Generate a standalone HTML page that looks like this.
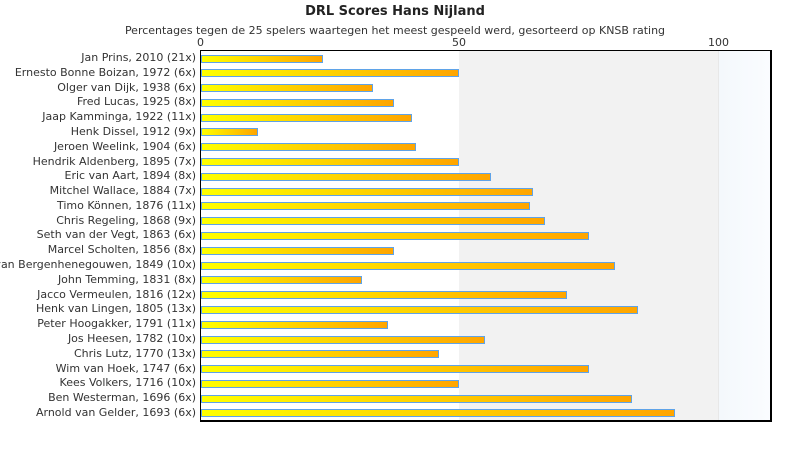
<!DOCTYPE html>
<html><head><style>
body{margin:0;background:#fff;width:790px;height:450px;overflow:hidden;font-family:"DejaVu Sans","Liberation Sans",sans-serif;color:#333}
.t{position:absolute;white-space:nowrap}
.lab{position:absolute;right:594px;font-size:11px;white-space:nowrap;line-height:12px}
.bar{position:absolute;left:201px;height:6px;border:1px solid #5fa3e8;background:linear-gradient(to right,#ffff00,#ffa500)}
</style></head><body>
<div class="t" style="left:0;width:790px;text-align:center;top:4px;font-size:13px;font-weight:bold;color:#222">DRL Scores Hans Nijland</div>
<div class="t" style="left:0;width:790px;text-align:center;top:24px;font-size:11px">Percentages tegen de 25 spelers waartegen het meest gespeeld werd, gesorteerd op KNSB rating</div>
<div class="t" style="left:197px;top:36px;font-size:11px">0</div>
<div class="t" style="left:452px;top:36px;font-size:11px">50</div>
<div class="t" style="left:708px;top:36px;font-size:11px">100</div>
<div style="position:absolute;left:200px;top:50px;width:569px;height:369px;border:1px solid #000;border-width:1px 2px 2px 1px;background:#fff">
<div style="position:absolute;left:258px;top:0;width:259px;height:100%;background:#f2f2f2;border-right:1px solid #e8e8e8"></div>
<div style="position:absolute;left:518px;top:0;width:51px;height:100%;background:linear-gradient(to right,#f4f8fc,#fafcff)"></div>
</div>
<div id="c"></div>
<script>
var d=[["Jan Prins, 2010 (21x)",323],["Ernesto Bonne Boizan, 1972 (6x)",459],["Olger van Dijk, 1938 (6x)",373],["Fred Lucas, 1925 (8x)",394],["Jaap Kamminga, 1922 (11x)",412],["Henk Dissel, 1912 (9x)",258],["Jeroen Weelink, 1904 (6x)",416],["Hendrik Aldenberg, 1895 (7x)",459],["Eric van Aart, 1894 (8x)",491],["Mitchel Wallace, 1884 (7x)",533],["Timo Können, 1876 (11x)",530],["Chris Regeling, 1868 (9x)",545],["Seth van der Vegt, 1863 (6x)",589],["Marcel Scholten, 1856 (8x)",394],["Johan van Bergenhenegouwen, 1849 (10x)",615],["John Temming, 1831 (8x)",362],["Jacco Vermeulen, 1816 (12x)",567],["Henk van Lingen, 1805 (13x)",638],["Peter Hoogakker, 1791 (11x)",388],["Jos Heesen, 1782 (10x)",485],["Chris Lutz, 1770 (13x)",439],["Wim van Hoek, 1747 (6x)",589],["Kees Volkers, 1716 (10x)",459],["Ben Westerman, 1696 (6x)",632],["Arnold van Gelder, 1693 (6x)",675]];
var h="";d.forEach(function(r,i){var y=58.5+i*14.79;
h+='<div class="lab" style="top:'+(y-6.5)+'px">'+r[0]+'</div>';
h+='<div class="bar" style="top:'+(y-4)+'px;width:'+(r[1]-203)+'px"></div>';});
document.getElementById("c").innerHTML=h;
</script>
</body></html>
